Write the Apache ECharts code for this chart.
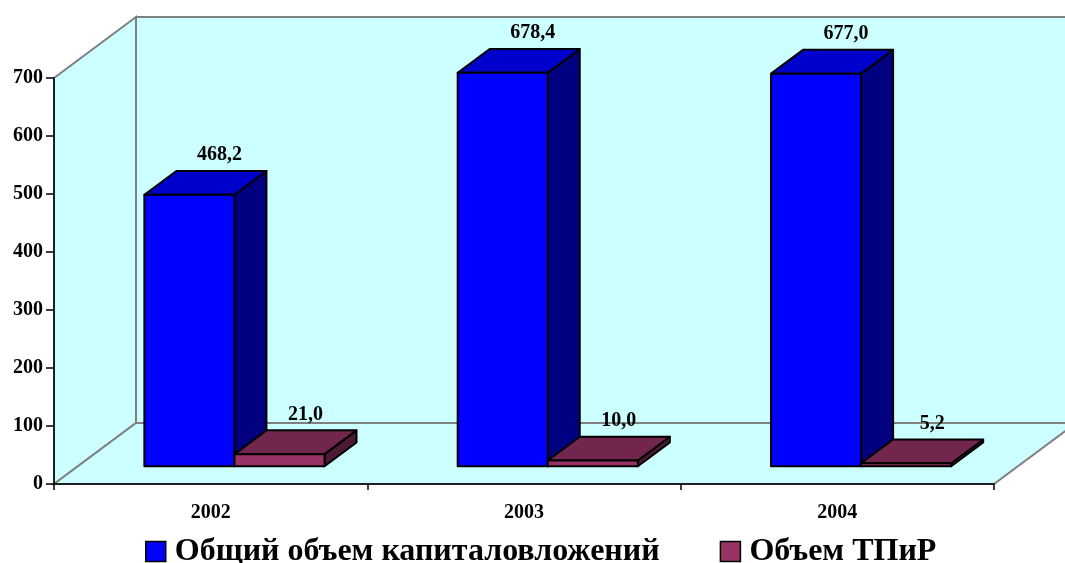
<!DOCTYPE html>
<html><head><meta charset="utf-8">
<script src="https://cdn.jsdelivr.net/npm/echarts/dist/echarts.min.js"></script>
<style>html,body{margin:0;padding:0;background:#fff}#c{width:1065px;height:563px}</style>
</head><body><div id="c"></div>
<script>
const categories = ['2002', '2003', '2004'];
const totalInvest = [468.2, 678.4, 677.0];
const tpirVolume = [21.0, 10.0, 5.2];
const seriesNames = ['Общий объем капиталовложений', 'Объем ТПиР'];

const FONT = '"Liberation Serif", "Times New Roman", serif';
const DEPTH = [82, -61];
const F0 = 0.29, F1 = 0.68;
const COLORS = [
  { front: '#0000FF', top: '#0000CC', side: '#000080' },
  { front: '#993366', top: '#73264D', side: '#4D1A33' }
];

function fmt(v) { return v.toFixed(1).replace('.', ','); }

function renderWalls(params, api) {
  const cs = params.coordSys;
  const x0 = cs.x, x1 = cs.x + cs.width, yb = cs.y + cs.height, yt = cs.y;
  const dx = DEPTH[0], dy = DEPTH[1];
  const st = { fill: '#CCFFFF', stroke: '#808080', lineWidth: 2 };
  return { type: 'group', children: [
    { type: 'polygon', shape: { points: [[x0 + dx, yt + dy], [x1 + dx + 40, yt + dy], [x1 + dx + 40, yb + dy], [x0 + dx, yb + dy]] }, style: st },
    { type: 'polygon', shape: { points: [[x0, yb], [x0, yt], [x0 + dx, yt + dy], [x0 + dx, yb + dy]] }, style: st },
    { type: 'polygon', shape: { points: [[x0, yb], [x1, yb], [x1 + dx, yb + dy], [x0 + dx, yb + dy]] }, style: st }
  ]};
}

function makeBarRender(s) {
  const c = COLORS[s];
  return function (params, api) {
    const i = api.value(0), v = api.value(1);
    const base = api.coord([i, 0]);
    const top = api.coord([i, v]);
    const bw = api.size([1, 0])[0];
    const w = bw * 0.2875;
    const xl = base[0] - w + s * w;
    const fx = DEPTH[0] * F0, fy = DEPTH[1] * F0;
    const bx = DEPTH[0] * (F1 - F0), by = DEPTH[1] * (F1 - F0);
    const L = xl + fx, R = xl + w + fx;
    const yB = base[1] + fy, yT = top[1] + fy;
    const edge = { stroke: '#000', lineWidth: 2, lineJoin: 'round' };
    return { type: 'group', children: [
      { type: 'polygon', shape: { points: [[R, yB], [R, yT], [R + bx, yT + by], [R + bx, yB + by]] }, style: Object.assign({ fill: c.side }, edge) },
      { type: 'polygon', shape: { points: [[L, yT], [R, yT], [R + bx, yT + by], [L + bx, yT + by]] }, style: Object.assign({ fill: c.top }, edge) },
      { type: 'rect', shape: { x: L, y: yT, width: R - L, height: yB - yT }, style: Object.assign({ fill: c.front }, edge) },
      { type: 'text', x: (L + R) / 2 + bx - 2 - s * 4, y: yT + by - 6,
        style: { text: fmt(v), fill: '#000', font: 'bold 20px ' + FONT, textAlign: 'center', textVerticalAlign: 'bottom' } }
    ]};
  };
}

const chart = echarts.init(document.getElementById('c'), null, { renderer: 'canvas' });
chart.setOption({
  animation: false,
  backgroundColor: '#fff',
  grid: { left: 54, right: 71, top: 78, bottom: 79 },
  legend: {
    top: 534, left: 145, padding: 0,
    itemWidth: 20, itemHeight: 20, itemGap: 60,
    icon: 'rect',
    itemStyle: { borderColor: '#000', borderWidth: 1.5 },
    textStyle: { fontFamily: FONT, fontWeight: 'bold', fontSize: 32, lineHeight: 32, color: '#000', padding: [3, 0, 0, 4] },
    data: seriesNames
  },
  xAxis: {
    type: 'category', data: categories, z: 4,
    axisLine: { lineStyle: { color: '#000', width: 1.5 } },
    axisTick: { show: true, length: 6, lineStyle: { color: '#000', width: 1.5 } },
    axisLabel: { fontFamily: FONT, fontWeight: 'bold', fontSize: 20, color: '#000', margin: 19 }
  },
  yAxis: {
    type: 'value', min: 0, max: 700, interval: 100, z: 4,
    axisLine: { show: true, lineStyle: { color: '#000', width: 1.5 } },
    axisTick: { show: true, length: 8, lineStyle: { color: '#000', width: 1.5 } },
    splitLine: { show: false },
    axisLabel: { fontFamily: FONT, fontWeight: 'bold', fontSize: 20, color: '#000', margin: 11 }
  },
  series: [
    { type: 'custom', name: 'walls', z: 1, silent: true, renderItem: renderWalls, data: [[0, 0]] },
    { type: 'custom', name: seriesNames[0], z: 5, itemStyle: { color: COLORS[0].front }, renderItem: makeBarRender(0),
      data: totalInvest.map((v, i) => [i, v]) },
    { type: 'custom', name: seriesNames[1], z: 5, itemStyle: { color: COLORS[1].front }, renderItem: makeBarRender(1),
      data: tpirVolume.map((v, i) => [i, v]) }
  ]
});
</script></body></html>
